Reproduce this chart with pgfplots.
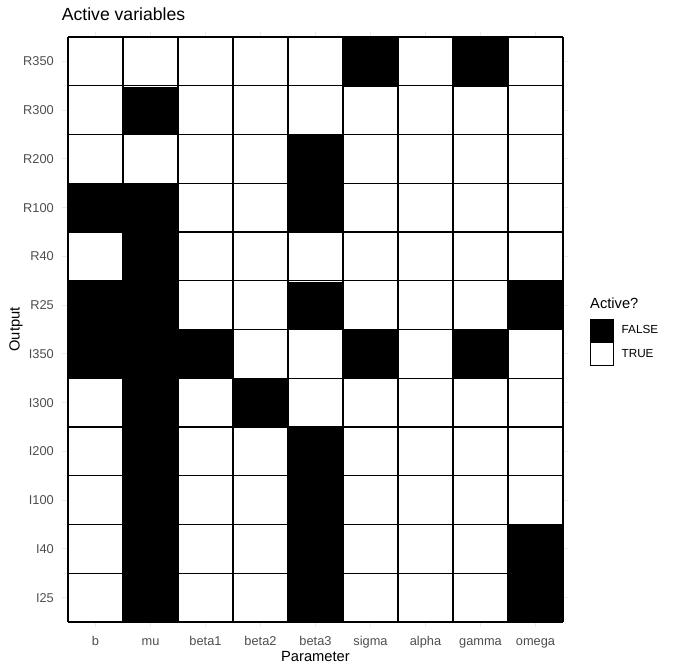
\documentclass[border=0pt]{standalone}
\usepackage{pgfplots}
\pgfplotsset{compat=1.18}
\usepackage{fontspec}
\setmainfont{Liberation Sans}
\definecolor{tickgray}{HTML}{4D4D4D}
\definecolor{gridgray}{HTML}{EBEBEB}

\begin{document}
\begin{tikzpicture}
\useasboundingbox (0,0) rectangle (672pt,672pt);
\begin{axis}[
  at={(62.5pt,45.1pt)}, anchor=south west,
  scale only axis, width=506pt, height=594.8pt,
  xmin=-0.6, xmax=8.6, ymin=-0.6, ymax=11.6,
  xtick={0,...,8},
  xticklabels={b,mu,beta1,beta2,beta3,sigma,alpha,gamma,omega},
  ytick={0,...,11},
  yticklabels={I25,I40,I100,I200,I300,I350,R25,R40,R100,R200,R300,R350},
  major tick length=0pt,
  tick style={draw=none},
  xmajorgrids, ymajorgrids,
  grid style={gridgray, line width=1.07pt},
  axis line style={draw=none},
  xticklabel style={font=\fontsize{12.8}{15}\selectfont, text=tickgray, inner sep=0pt,
    anchor=north, text height=9.2pt, text depth=2.7pt, yshift=-8.9pt},
  yticklabel style={font=\fontsize{12.8}{15}\selectfont, text=tickgray, inner sep=0pt,
    anchor=east, xshift=-8.5pt},
  xlabel={Parameter},
  xlabel style={at={(axis description cs:0.5,0)}, anchor=base, yshift=-34.8pt,
    font=\fontsize{14.7}{17}\selectfont, inner sep=0pt},
  ylabel={Output},
  ylabel style={at={(axis description cs:-0.08498,0.5)}, rotate=0, anchor=base,
    font=\fontsize{14.7}{17}\selectfont, inner sep=0pt},
  title={Active variables},
  title style={at={(axis description cs:0,1)}, anchor=base west, xshift=-0.8pt, yshift=5.3pt,
    font=\fontsize{17.6}{20}\selectfont, inner sep=0pt},
  clip=false,
  colormap={bw}{rgb255=(0,0,0) rgb255=(255,255,255)},
  point meta min=0, point meta max=1,
  unbounded coords=jump,
  legend image code/.code={\draw[#1] (0pt,-11.5pt) rectangle (22.7pt,11.5pt);},
  legend style={at={(axis description cs:1.0425,0.5188)}, anchor=north west,
    draw=none, fill=none, inner sep=0pt, row sep=0pt,
    font=\fontsize{11.7}{14}\selectfont,
    nodes={inner sep=0pt, inner xsep=8pt}},
  legend cell align=left,
]
% c = 0 : FALSE (inactive, black), c = 1 : TRUE (white)
\addplot[matrix plot*, mesh/cols=9, point meta=explicit, forget plot] table[meta=c] {
x y c
0 0 1
1 0 0
2 0 1
3 0 1
4 0 0
5 0 1
6 0 1
7 0 1
8 0 0
0 1 1
1 1 0
2 1 1
3 1 1
4 1 0
5 1 1
6 1 1
7 1 1
8 1 0
0 2 1
1 2 0
2 2 1
3 2 1
4 2 0
5 2 1
6 2 1
7 2 1
8 2 1
0 3 1
1 3 0
2 3 1
3 3 1
4 3 0
5 3 1
6 3 1
7 3 1
8 3 1
0 4 1
1 4 0
2 4 1
3 4 0
4 4 1
5 4 1
6 4 1
7 4 1
8 4 1
0 5 0
1 5 0
2 5 0
3 5 1
4 5 1
5 5 0
6 5 1
7 5 0
8 5 1
0 6 0
1 6 0
2 6 1
3 6 1
4 6 0
5 6 1
6 6 1
7 6 1
8 6 0
0 7 1
1 7 0
2 7 1
3 7 1
4 7 1
5 7 1
6 7 1
7 7 1
8 7 1
0 8 0
1 8 0
2 8 1
3 8 1
4 8 0
5 8 1
6 8 1
7 8 1
8 8 1
0 9 1
1 9 1
2 9 1
3 9 1
4 9 0
5 9 1
6 9 1
7 9 1
8 9 1
0 10 1
1 10 0
2 10 1
3 10 1
4 10 1
5 10 1
6 10 1
7 10 1
8 10 1
0 11 1
1 11 1
2 11 1
3 11 1
4 11 1
5 11 0
6 11 1
7 11 0
8 11 1
};
% tile borders
\addplot[black, line width=1.4pt, forget plot] coordinates {
(-0.5,-0.5) (-0.5,11.5) (nan,nan)
(0.5,-0.5) (0.5,11.5) (nan,nan)
(1.5,-0.5) (1.5,11.5) (nan,nan)
(2.5,-0.5) (2.5,11.5) (nan,nan)
(3.5,-0.5) (3.5,11.5) (nan,nan)
(4.5,-0.5) (4.5,11.5) (nan,nan)
(5.5,-0.5) (5.5,11.5) (nan,nan)
(6.5,-0.5) (6.5,11.5) (nan,nan)
(7.5,-0.5) (7.5,11.5) (nan,nan)
(8.5,-0.5) (8.5,11.5) (nan,nan)
(-0.5,-0.5) (8.5,-0.5) (nan,nan)
(-0.5,0.5) (8.5,0.5) (nan,nan)
(-0.5,1.5) (8.5,1.5) (nan,nan)
(-0.5,2.5) (8.5,2.5) (nan,nan)
(-0.5,3.5) (8.5,3.5) (nan,nan)
(-0.5,4.5) (8.5,4.5) (nan,nan)
(-0.5,5.5) (8.5,5.5) (nan,nan)
(-0.5,6.5) (8.5,6.5) (nan,nan)
(-0.5,7.5) (8.5,7.5) (nan,nan)
(-0.5,8.5) (8.5,8.5) (nan,nan)
(-0.5,9.5) (8.5,9.5) (nan,nan)
(-0.5,10.5) (8.5,10.5) (nan,nan)
(-0.5,11.5) (8.5,11.5)
};
\addlegendimage{fill=black, draw=black, line width=0.8pt}
\addlegendentry{FALSE}
\addlegendimage{fill=white, draw=black, line width=0.8pt}
\addlegendentry{TRUE}
\node[anchor=base west, inner sep=0pt, font=\fontsize{14.7}{17}\selectfont]
  at (axis description cs:1.0425,0.5345) {Active?};
\end{axis}
\end{tikzpicture}
\end{document}
